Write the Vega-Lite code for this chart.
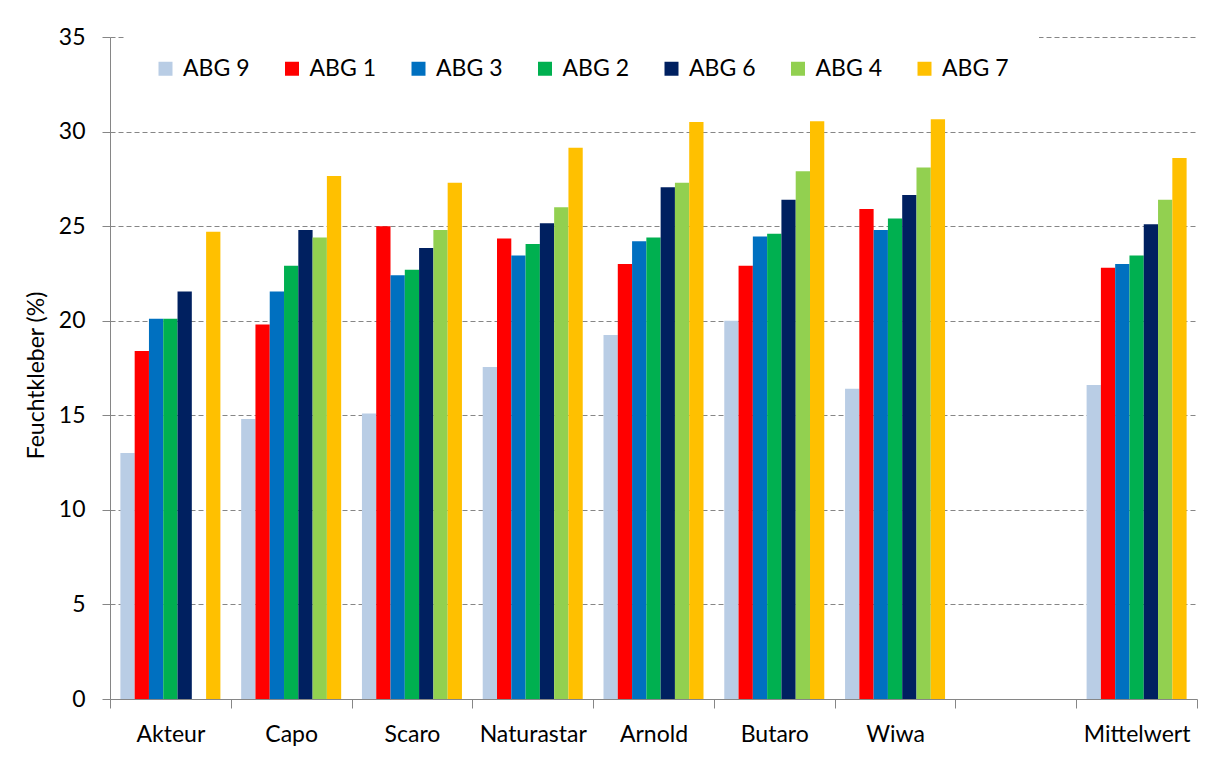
{
  "$schema": "https://vega.github.io/schema/vega-lite/v6.json",
  "width": 1087,
  "height": 662,
  "autosize": {"type": "none"},
  "padding": {"left": 110, "top": 37, "right": 18, "bottom": 61},
  "background": "white",
  "config": {
    "font": "Lato",
    "view": {"stroke": null},
    "axis": {"labelFont": "Lato", "titleFont": "Lato", "labelColor": "#000000", "titleColor": "#000000"}
  },
  "data": {
    "values": [
      {"Sorte": "Akteur", "ABG": "ABG 9", "v": 13.0},
      {"Sorte": "Akteur", "ABG": "ABG 1", "v": 18.4},
      {"Sorte": "Akteur", "ABG": "ABG 3", "v": 20.1},
      {"Sorte": "Akteur", "ABG": "ABG 2", "v": 20.1},
      {"Sorte": "Akteur", "ABG": "ABG 6", "v": 21.55},
      {"Sorte": "Akteur", "ABG": "ABG 7", "v": 24.7},
      {"Sorte": "Capo", "ABG": "ABG 9", "v": 14.8},
      {"Sorte": "Capo", "ABG": "ABG 1", "v": 19.8},
      {"Sorte": "Capo", "ABG": "ABG 3", "v": 21.55},
      {"Sorte": "Capo", "ABG": "ABG 2", "v": 22.9},
      {"Sorte": "Capo", "ABG": "ABG 6", "v": 24.8},
      {"Sorte": "Capo", "ABG": "ABG 4", "v": 24.4},
      {"Sorte": "Capo", "ABG": "ABG 7", "v": 27.65},
      {"Sorte": "Scaro", "ABG": "ABG 9", "v": 15.1},
      {"Sorte": "Scaro", "ABG": "ABG 1", "v": 25.0},
      {"Sorte": "Scaro", "ABG": "ABG 3", "v": 22.4},
      {"Sorte": "Scaro", "ABG": "ABG 2", "v": 22.7},
      {"Sorte": "Scaro", "ABG": "ABG 6", "v": 23.85},
      {"Sorte": "Scaro", "ABG": "ABG 4", "v": 24.8},
      {"Sorte": "Scaro", "ABG": "ABG 7", "v": 27.3},
      {"Sorte": "Naturastar", "ABG": "ABG 9", "v": 17.55},
      {"Sorte": "Naturastar", "ABG": "ABG 1", "v": 24.35},
      {"Sorte": "Naturastar", "ABG": "ABG 3", "v": 23.45},
      {"Sorte": "Naturastar", "ABG": "ABG 2", "v": 24.05},
      {"Sorte": "Naturastar", "ABG": "ABG 6", "v": 25.15},
      {"Sorte": "Naturastar", "ABG": "ABG 4", "v": 26.0},
      {"Sorte": "Naturastar", "ABG": "ABG 7", "v": 29.15},
      {"Sorte": "Arnold", "ABG": "ABG 9", "v": 19.25},
      {"Sorte": "Arnold", "ABG": "ABG 1", "v": 23.0},
      {"Sorte": "Arnold", "ABG": "ABG 3", "v": 24.2},
      {"Sorte": "Arnold", "ABG": "ABG 2", "v": 24.4},
      {"Sorte": "Arnold", "ABG": "ABG 6", "v": 27.05},
      {"Sorte": "Arnold", "ABG": "ABG 4", "v": 27.3},
      {"Sorte": "Arnold", "ABG": "ABG 7", "v": 30.5},
      {"Sorte": "Butaro", "ABG": "ABG 9", "v": 20.0},
      {"Sorte": "Butaro", "ABG": "ABG 1", "v": 22.9},
      {"Sorte": "Butaro", "ABG": "ABG 3", "v": 24.45},
      {"Sorte": "Butaro", "ABG": "ABG 2", "v": 24.6},
      {"Sorte": "Butaro", "ABG": "ABG 6", "v": 26.4},
      {"Sorte": "Butaro", "ABG": "ABG 4", "v": 27.9},
      {"Sorte": "Butaro", "ABG": "ABG 7", "v": 30.55},
      {"Sorte": "Wiwa", "ABG": "ABG 9", "v": 16.4},
      {"Sorte": "Wiwa", "ABG": "ABG 1", "v": 25.9},
      {"Sorte": "Wiwa", "ABG": "ABG 3", "v": 24.8},
      {"Sorte": "Wiwa", "ABG": "ABG 2", "v": 25.4},
      {"Sorte": "Wiwa", "ABG": "ABG 6", "v": 26.65},
      {"Sorte": "Wiwa", "ABG": "ABG 4", "v": 28.1},
      {"Sorte": "Wiwa", "ABG": "ABG 7", "v": 30.65},
      {"Sorte": "Mittelwert", "ABG": "ABG 9", "v": 16.6},
      {"Sorte": "Mittelwert", "ABG": "ABG 1", "v": 22.8},
      {"Sorte": "Mittelwert", "ABG": "ABG 3", "v": 23.0},
      {"Sorte": "Mittelwert", "ABG": "ABG 2", "v": 23.45},
      {"Sorte": "Mittelwert", "ABG": "ABG 6", "v": 25.1},
      {"Sorte": "Mittelwert", "ABG": "ABG 4", "v": 26.4},
      {"Sorte": "Mittelwert", "ABG": "ABG 7", "v": 28.6}
    ]
  },
  "mark": {"type": "bar"},
  "encoding": {
    "x": {
      "field": "Sorte",
      "type": "nominal",
      "sort": null,
      "scale": {
        "domain": ["Akteur", "Capo", "Scaro", "Naturastar", "Arnold", "Butaro", "Wiwa", " ", "Mittelwert"],
        "paddingInner": 0,
        "paddingOuter": 0
      },
      "axis": {
        "title": null,
        "labelAngle": 0,
        "labelFontSize": 23,
        "labelPadding": 15,
        "tickBand": "extent",
        "tickSize": 9,
        "tickColor": "#868686",
        "domainColor": "#868686",
        "domainWidth": 1,
        "grid": false
      }
    },
    "xOffset": {
      "field": "ABG",
      "type": "nominal",
      "scale": {
        "domain": ["ABG 9", "ABG 1", "ABG 3", "ABG 2", "ABG 6", "ABG 4", "ABG 7"],
        "paddingInner": 0,
        "paddingOuter": 0.727
      }
    },
    "y": {
      "field": "v",
      "type": "quantitative",
      "scale": {"domain": [0, 35], "nice": false},
      "axis": {
        "title": "Feuchtkleber (%)",
        "titleFontSize": 23,
        "titleFontWeight": "normal",
        "titleX": -67,
        "titleY": 338,
        "titleBaseline": "alphabetic",
        "titleAngle": -90,
        "titleAlign": "center",
        "values": [0, 5, 10, 15, 20, 25, 30, 35],
        "labelFontSize": 23,
        "labelPadding": 17,
        "tickSize": 8,
        "tickColor": "#868686",
        "domainColor": "#868686",
        "grid": true,
        "gridColor": "#868686",
        "gridDash": [5, 3],
        "gridWidth": 1
      }
    },
    "color": {
      "field": "ABG",
      "type": "nominal",
      "scale": {
        "domain": ["ABG 9", "ABG 1", "ABG 3", "ABG 2", "ABG 6", "ABG 4", "ABG 7"],
        "range": ["#B9CDE5", "#FF0000", "#0070C0", "#00B050", "#002060", "#92D050", "#FFC000"]
      },
      "legend": {
        "title": null,
        "orient": "none",
        "legendX": 14,
        "legendY": -10,
        "direction": "horizontal",
        "columns": 7,
        "symbolType": "square",
        "symbolSize": 196,
        "symbolStrokeWidth": 0,
        "labelFontSize": 23,
        "labelColor": "#000000",
        "labelOffset": 6,
        "columnPadding": 30.5,
        "padding": 30,
        "fillColor": "white",
        "strokeColor": null
      }
    }
  }
}
